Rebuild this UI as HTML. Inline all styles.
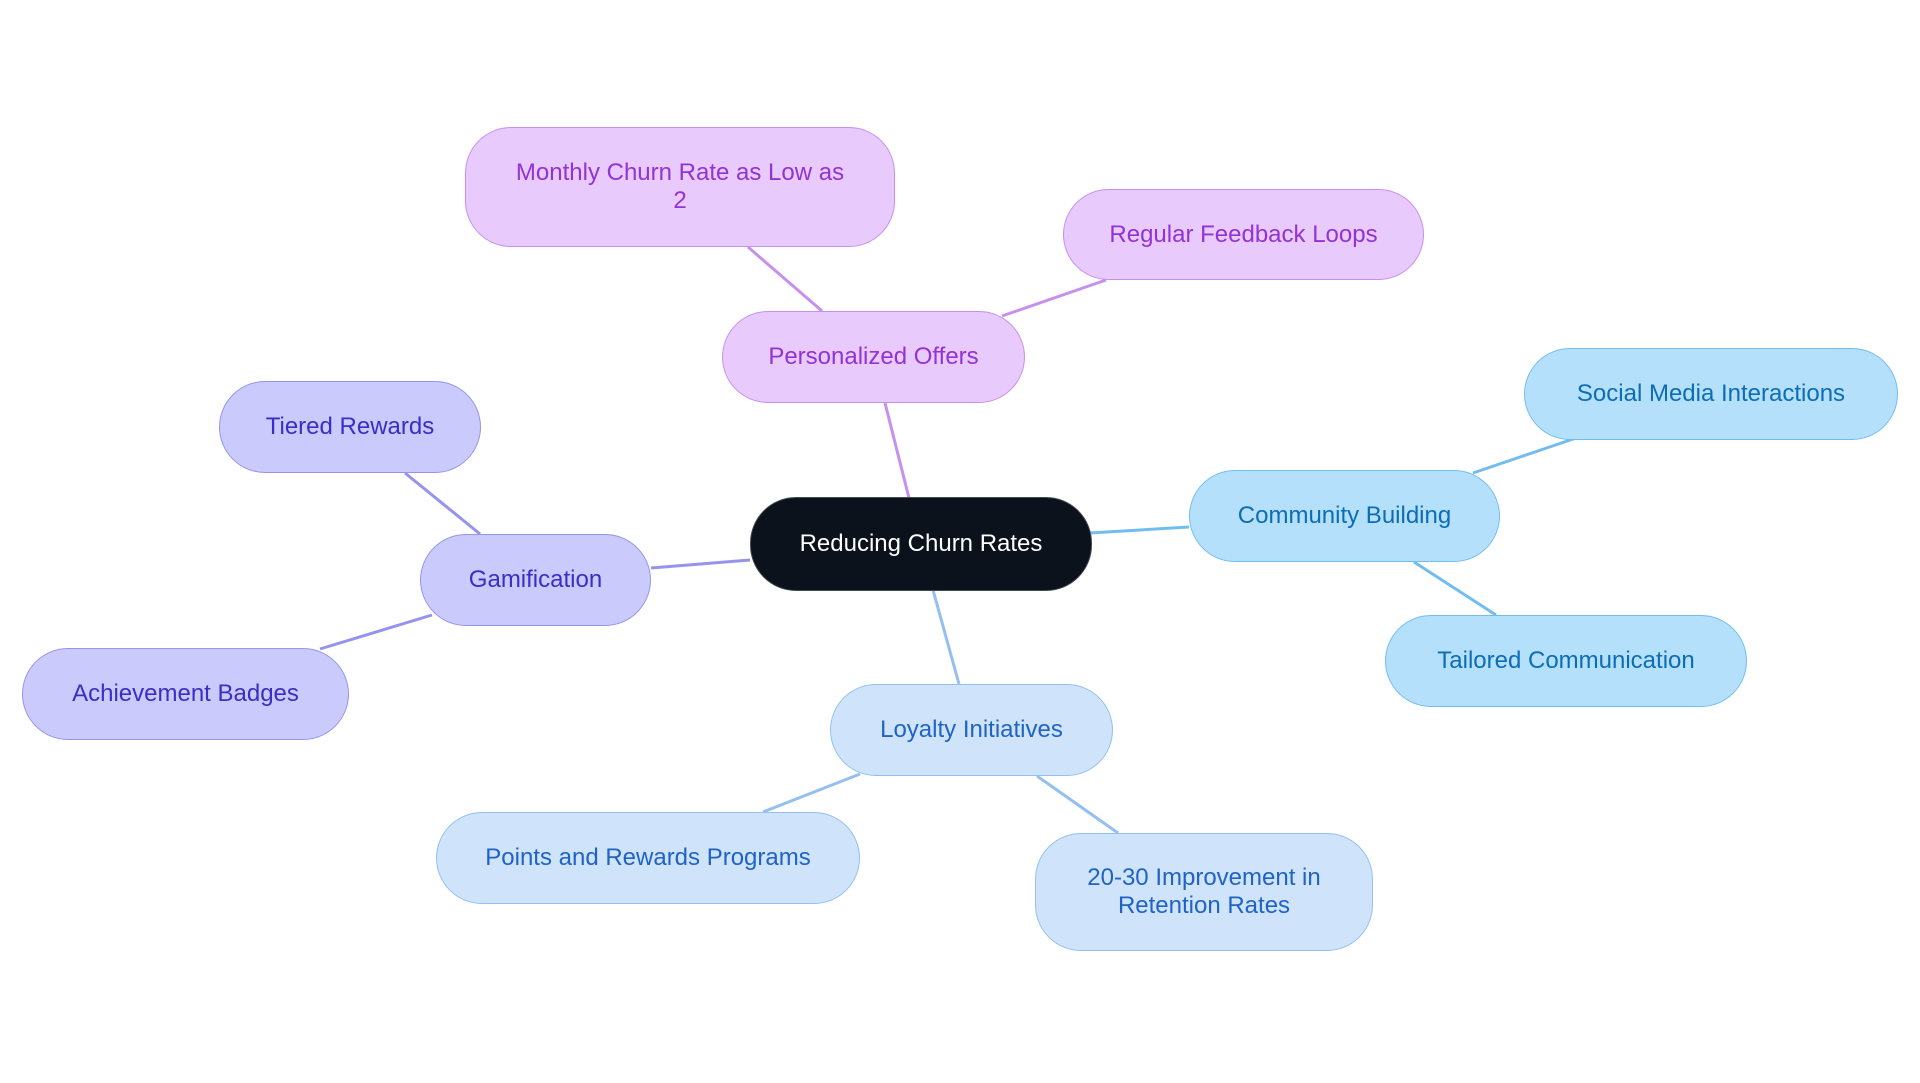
<!DOCTYPE html>
<html><head><meta charset="utf-8"><style>
html,body{margin:0;padding:0;background:#fff;}
body{width:1920px;height:1083px;position:relative;overflow:hidden;font-family:"Liberation Sans",sans-serif;}
.n{position:absolute;box-sizing:border-box;display:flex;align-items:center;justify-content:center;text-align:center;font-size:24px;line-height:28px;border:1.5px solid;border-radius:46px;}
.p{background:#e8cafd;border-color:#c790ef;color:#9233d6;}
.b{background:#cfe3fb;border-color:#93c0f1;color:#1f63c7;}
.c{background:#b4e0fc;border-color:#72bdf0;color:#0c6db5;}
.i{background:#cbcafd;border-color:#9593ee;color:#3a2ec4;}
.m{background:#0c121b;border-color:#444a52;color:#fff;}
</style></head><body>
<svg width="1920" height="1083" style="position:absolute;left:0;top:0" fill="none" stroke-width="3">
<line x1="909" y1="498" x2="885" y2="403" stroke="#c790ef"/>
<line x1="822" y1="311" x2="748" y2="247" stroke="#c790ef"/>
<line x1="1002" y1="316" x2="1106" y2="280" stroke="#c790ef"/>
<line x1="1090" y1="533" x2="1189" y2="527" stroke="#72bdf0"/>
<line x1="1473" y1="473" x2="1576" y2="438" stroke="#72bdf0"/>
<line x1="1414" y1="562" x2="1496" y2="615" stroke="#72bdf0"/>
<line x1="933" y1="590" x2="959" y2="684" stroke="#93c0f1"/>
<line x1="860" y1="774" x2="763" y2="812" stroke="#93c0f1"/>
<line x1="1037" y1="776" x2="1118" y2="833" stroke="#93c0f1"/>
<line x1="750" y1="560" x2="651" y2="568" stroke="#9593ee"/>
<line x1="480" y1="534" x2="405" y2="473" stroke="#9593ee"/>
<line x1="432" y1="615" x2="320" y2="649" stroke="#9593ee"/>
</svg>
<div class="n m" style="left:750px;top:497px;width:342px;height:94px;">Reducing Churn Rates</div>
<div class="n p" style="left:722px;top:311px;width:303px;height:92px;">Personalized Offers</div>
<div class="n p" style="left:465px;top:127px;width:430px;height:120px;padding:0 40px;">Monthly Churn Rate as Low as 2</div>
<div class="n p" style="left:1063px;top:189px;width:361px;height:91px;">Regular Feedback Loops</div>
<div class="n c" style="left:1189px;top:470px;width:311px;height:92px;">Community Building</div>
<div class="n c" style="left:1524px;top:348px;width:374px;height:92px;">Social Media Interactions</div>
<div class="n c" style="left:1385px;top:615px;width:362px;height:92px;">Tailored Communication</div>
<div class="n b" style="left:830px;top:684px;width:283px;height:92px;">Loyalty Initiatives</div>
<div class="n b" style="left:436px;top:812px;width:424px;height:92px;">Points and Rewards Programs</div>
<div class="n b" style="left:1035px;top:833px;width:338px;height:118px;padding:0 40px;">20-30 Improvement in Retention Rates</div>
<div class="n i" style="left:420px;top:534px;width:231px;height:92px;">Gamification</div>
<div class="n i" style="left:219px;top:381px;width:262px;height:92px;">Tiered Rewards</div>
<div class="n i" style="left:22px;top:648px;width:327px;height:92px;">Achievement Badges</div>
</body></html>
